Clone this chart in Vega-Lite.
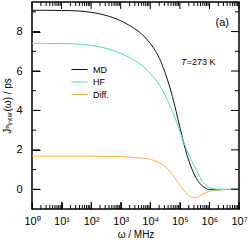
{
  "$schema": "https://vega.github.io/schema/vega-lite/v6.json",
  "autosize": {"type": "none"},
  "padding": {"left": 32, "top": 2, "right": 10, "bottom": 32},
  "width": 207,
  "height": 207,
  "background": "white",
  "config": {
    "font": "Liberation Sans",
    "view": {"stroke": "black", "strokeWidth": 1.5},
    "axis": {
      "labelFont": "Liberation Sans", "labelFontSize": 11, "labelColor": "black",
      "titleFont": "Liberation Sans", "titleFontSize": 10, "titleFontWeight": "normal", "titleColor": "black",
      "labelOverlap": false, "labelBound": false, "labelFlush": false
    }
  },
  "datasets": {
    "curves": [
      {"w": 1, "s": "MD", "v": 9.08}, {"w": 1, "s": "HF", "v": 7.40}, {"w": 1, "s": "Diff.", "v": 1.68},
      {"w": 3.162, "s": "MD", "v": 9.08}, {"w": 3.162, "s": "HF", "v": 7.40}, {"w": 3.162, "s": "Diff.", "v": 1.68},
      {"w": 10, "s": "MD", "v": 9.07}, {"w": 10, "s": "HF", "v": 7.39}, {"w": 10, "s": "Diff.", "v": 1.68},
      {"w": 31.62, "s": "MD", "v": 9.05}, {"w": 31.62, "s": "HF", "v": 7.37}, {"w": 31.62, "s": "Diff.", "v": 1.68},
      {"w": 100, "s": "MD", "v": 8.98}, {"w": 100, "s": "HF", "v": 7.30}, {"w": 100, "s": "Diff.", "v": 1.68},
      {"w": 316.2, "s": "MD", "v": 8.82}, {"w": 316.2, "s": "HF", "v": 7.15}, {"w": 316.2, "s": "Diff.", "v": 1.67},
      {"w": 1000, "s": "MD", "v": 8.55}, {"w": 1000, "s": "HF", "v": 6.89}, {"w": 1000, "s": "Diff.", "v": 1.66},
      {"w": 1778, "s": "MD", "v": 8.35}, {"w": 1778, "s": "HF", "v": 6.72}, {"w": 1778, "s": "Diff.", "v": 1.63},
      {"w": 3162, "s": "MD", "v": 8.12}, {"w": 3162, "s": "HF", "v": 6.52}, {"w": 3162, "s": "Diff.", "v": 1.60},
      {"w": 5623, "s": "MD", "v": 7.82}, {"w": 5623, "s": "HF", "v": 6.24}, {"w": 5623, "s": "Diff.", "v": 1.58},
      {"w": 10000, "s": "MD", "v": 7.40}, {"w": 10000, "s": "HF", "v": 5.88}, {"w": 10000, "s": "Diff.", "v": 1.52},
      {"w": 13335, "s": "MD", "v": 7.13}, {"w": 13335, "s": "HF", "v": 5.67}, {"w": 13335, "s": "Diff.", "v": 1.46},
      {"w": 17783, "s": "MD", "v": 6.82}, {"w": 17783, "s": "HF", "v": 5.43}, {"w": 17783, "s": "Diff.", "v": 1.39},
      {"w": 23714, "s": "MD", "v": 6.42}, {"w": 23714, "s": "HF", "v": 5.12}, {"w": 23714, "s": "Diff.", "v": 1.30},
      {"w": 31623, "s": "MD", "v": 5.92}, {"w": 31623, "s": "HF", "v": 4.75}, {"w": 31623, "s": "Diff.", "v": 1.17},
      {"w": 42170, "s": "MD", "v": 5.35}, {"w": 42170, "s": "HF", "v": 4.37}, {"w": 42170, "s": "Diff.", "v": 0.98},
      {"w": 56234, "s": "MD", "v": 4.70}, {"w": 56234, "s": "HF", "v": 3.95}, {"w": 56234, "s": "Diff.", "v": 0.75},
      {"w": 74989, "s": "MD", "v": 3.95}, {"w": 74989, "s": "HF", "v": 3.47}, {"w": 74989, "s": "Diff.", "v": 0.48},
      {"w": 100000, "s": "MD", "v": 3.15}, {"w": 100000, "s": "HF", "v": 2.93}, {"w": 100000, "s": "Diff.", "v": 0.22},
      {"w": 133352, "s": "MD", "v": 2.38}, {"w": 133352, "s": "HF", "v": 2.42}, {"w": 133352, "s": "Diff.", "v": -0.04},
      {"w": 177828, "s": "MD", "v": 1.70}, {"w": 177828, "s": "HF", "v": 1.95}, {"w": 177828, "s": "Diff.", "v": -0.25},
      {"w": 237137, "s": "MD", "v": 1.15}, {"w": 237137, "s": "HF", "v": 1.53}, {"w": 237137, "s": "Diff.", "v": -0.38},
      {"w": 316228, "s": "MD", "v": 0.72}, {"w": 316228, "s": "HF", "v": 1.15}, {"w": 316228, "s": "Diff.", "v": -0.43},
      {"w": 421697, "s": "MD", "v": 0.40}, {"w": 421697, "s": "HF", "v": 0.78}, {"w": 421697, "s": "Diff.", "v": -0.38},
      {"w": 562341, "s": "MD", "v": 0.18}, {"w": 562341, "s": "HF", "v": 0.45}, {"w": 562341, "s": "Diff.", "v": -0.27},
      {"w": 749894, "s": "MD", "v": 0.05}, {"w": 749894, "s": "HF", "v": 0.22}, {"w": 749894, "s": "Diff.", "v": -0.17},
      {"w": 1000000, "s": "MD", "v": -0.02}, {"w": 1000000, "s": "HF", "v": 0.08}, {"w": 1000000, "s": "Diff.", "v": -0.10},
      {"w": 1778279, "s": "MD", "v": -0.03}, {"w": 1778279, "s": "HF", "v": 0.01}, {"w": 1778279, "s": "Diff.", "v": -0.04},
      {"w": 3162278, "s": "MD", "v": -0.01}, {"w": 3162278, "s": "HF", "v": 0.0}, {"w": 3162278, "s": "Diff.", "v": -0.01},
      {"w": 10000000, "s": "MD", "v": 0}, {"w": 10000000, "s": "HF", "v": 0}, {"w": 10000000, "s": "Diff.", "v": 0}
    ],
    "xt": [
      {"t": 1, "m": 1}, {"t": 2, "m": 0}, {"t": 3, "m": 0}, {"t": 4, "m": 0}, {"t": 5, "m": 0}, {"t": 6, "m": 0}, {"t": 7, "m": 0}, {"t": 8, "m": 0}, {"t": 9, "m": 0},
      {"t": 10, "m": 1}, {"t": 20, "m": 0}, {"t": 30, "m": 0}, {"t": 40, "m": 0}, {"t": 50, "m": 0}, {"t": 60, "m": 0}, {"t": 70, "m": 0}, {"t": 80, "m": 0}, {"t": 90, "m": 0},
      {"t": 100, "m": 1}, {"t": 200, "m": 0}, {"t": 300, "m": 0}, {"t": 400, "m": 0}, {"t": 500, "m": 0}, {"t": 600, "m": 0}, {"t": 700, "m": 0}, {"t": 800, "m": 0}, {"t": 900, "m": 0},
      {"t": 1000, "m": 1}, {"t": 2000, "m": 0}, {"t": 3000, "m": 0}, {"t": 4000, "m": 0}, {"t": 5000, "m": 0}, {"t": 6000, "m": 0}, {"t": 7000, "m": 0}, {"t": 8000, "m": 0}, {"t": 9000, "m": 0},
      {"t": 10000, "m": 1}, {"t": 20000, "m": 0}, {"t": 30000, "m": 0}, {"t": 40000, "m": 0}, {"t": 50000, "m": 0}, {"t": 60000, "m": 0}, {"t": 70000, "m": 0}, {"t": 80000, "m": 0}, {"t": 90000, "m": 0},
      {"t": 100000, "m": 1}, {"t": 200000, "m": 0}, {"t": 300000, "m": 0}, {"t": 400000, "m": 0}, {"t": 500000, "m": 0}, {"t": 600000, "m": 0}, {"t": 700000, "m": 0}, {"t": 800000, "m": 0}, {"t": 900000, "m": 0},
      {"t": 1000000, "m": 1}, {"t": 2000000, "m": 0}, {"t": 3000000, "m": 0}, {"t": 4000000, "m": 0}, {"t": 5000000, "m": 0}, {"t": 6000000, "m": 0}, {"t": 7000000, "m": 0}, {"t": 8000000, "m": 0}, {"t": 9000000, "m": 0},
      {"t": 10000000, "m": 1}
    ],
    "yt": [
      {"u": 0, "m": 1}, {"u": 1, "m": 0}, {"u": 2, "m": 1}, {"u": 3, "m": 0}, {"u": 4, "m": 1},
      {"u": 5, "m": 0}, {"u": 6, "m": 1}, {"u": 7, "m": 0}, {"u": 8, "m": 1}, {"u": 9, "m": 0}
    ]
  },
  "resolve": {"axis": {"x": "independent", "y": "independent"}},
  "layer": [
    {
      "mark": {"type": "rule", "color": "#dddddd", "strokeWidth": 2},
      "encoding": {"y": {"datum": 0, "type": "quantitative", "axis": null}}
    },
    {
      "data": {"name": "curves"},
      "mark": {"type": "line", "strokeWidth": 1, "interpolate": "monotone"},
      "encoding": {
        "x": {
          "field": "w", "type": "quantitative",
          "scale": {"type": "log", "domain": [1, 10000000], "nice": false},
          "axis": {
            "orient": "bottom", "title": "ω / MHz", "titlePadding": 3, "grid": false, "domain": false,
            "values": [1, 10, 100, 1000, 10000, 100000, 1000000, 10000000],
            "offset": -7, "tickSize": 7, "tickColor": "black", "tickWidth": 1, "labelPadding": 6,
            "labelExpr": "'10' + ['⁰','¹','²','³','⁴','⁵','⁶','⁷'][round(log(datum.value)/LN10)]"
          }
        },
        "y": {
          "field": "v", "type": "quantitative",
          "scale": {"domain": [-1, 9.5], "nice": false, "zero": false},
          "axis": {
            "orient": "left", "title": "Jⁿᵢₙₜₑᵣ(ω) / ps", "titlePadding": 3, "grid": false, "domain": false,
            "values": [0, 2, 4, 6, 8], "offset": -8, "tickSize": 8, "tickColor": "black", "tickWidth": 1, "labelPadding": 10
          }
        },
        "color": {
          "field": "s", "type": "nominal",
          "scale": {"domain": ["MD", "HF", "Diff."], "range": ["#111111", "#40e0d0", "#ffb13b"]},
          "legend": {
            "orient": "none", "legendX": 39, "legendY": 63, "title": null,
            "symbolType": "stroke", "symbolSize": 256, "symbolStrokeWidth": 1,
            "labelFontSize": 9, "labelFont": "Liberation Sans", "labelOffset": 5,
            "clipHeight": 9, "rowPadding": 2.5, "padding": 0
          }
        }
      }
    },
    {
      "data": {"name": "xt"}, "transform": [{"filter": "datum.m == 1"}],
      "mark": {"type": "rule", "color": "black", "strokeWidth": 1},
      "encoding": {
        "x": {"field": "t", "type": "quantitative", "axis": null},
        "y": {"datum": -1, "type": "quantitative", "axis": null},
        "y2": {"datum": -0.645}
      }
    },
    {
      "data": {"name": "xt"}, "transform": [{"filter": "datum.m == 0"}],
      "mark": {"type": "rule", "color": "black", "strokeWidth": 1},
      "encoding": {
        "x": {"field": "t", "type": "quantitative", "axis": null},
        "y": {"datum": -1, "type": "quantitative", "axis": null},
        "y2": {"datum": -0.8}
      }
    },
    {
      "data": {"name": "xt"}, "transform": [{"filter": "datum.m == 1"}],
      "mark": {"type": "rule", "color": "black", "strokeWidth": 1},
      "encoding": {
        "x": {"field": "t", "type": "quantitative", "axis": null},
        "y": {"datum": 9.5, "type": "quantitative", "axis": null},
        "y2": {"datum": 9.145}
      }
    },
    {
      "data": {"name": "xt"}, "transform": [{"filter": "datum.m == 0"}],
      "mark": {"type": "rule", "color": "black", "strokeWidth": 1},
      "encoding": {
        "x": {"field": "t", "type": "quantitative", "axis": null},
        "y": {"datum": 9.5, "type": "quantitative", "axis": null},
        "y2": {"datum": 9.3}
      }
    },
    {
      "data": {"name": "yt"}, "transform": [{"filter": "datum.m == 1"}],
      "mark": {"type": "rule", "color": "black", "strokeWidth": 1},
      "encoding": {
        "y": {"field": "u", "type": "quantitative", "axis": null},
        "x": {"datum": 1, "type": "quantitative", "axis": null},
        "x2": {"datum": 1.865}
      }
    },
    {
      "data": {"name": "yt"}, "transform": [{"filter": "datum.m == 0"}],
      "mark": {"type": "rule", "color": "black", "strokeWidth": 1},
      "encoding": {
        "y": {"field": "u", "type": "quantitative", "axis": null},
        "x": {"datum": 1, "type": "quantitative", "axis": null},
        "x2": {"datum": 1.366}
      }
    },
    {
      "data": {"name": "yt"}, "transform": [{"filter": "datum.m == 1"}],
      "mark": {"type": "rule", "color": "black", "strokeWidth": 1},
      "encoding": {
        "y": {"field": "u", "type": "quantitative", "axis": null},
        "x": {"datum": 10000000, "type": "quantitative", "axis": null},
        "x2": {"datum": 5363000}
      }
    },
    {
      "data": {"name": "yt"}, "transform": [{"filter": "datum.m == 0"}],
      "mark": {"type": "rule", "color": "black", "strokeWidth": 1},
      "encoding": {
        "y": {"field": "u", "type": "quantitative", "axis": null},
        "x": {"datum": 10000000, "type": "quantitative", "axis": null},
        "x2": {"datum": 7320000}
      }
    },
    {
      "data": {"values": [{"w": 4590000, "v": 8.43, "t": "(a)"}]},
      "mark": {"type": "text", "align": "right", "baseline": "middle", "fontSize": 11, "color": "black"},
      "encoding": {
        "x": {"field": "w", "type": "quantitative", "axis": null},
        "y": {"field": "v", "type": "quantitative", "axis": null},
        "text": {"field": "t"}
      }
    },
    {
      "data": {"values": [{"w": 109000, "v": 6.46, "t": "T"}]},
      "mark": {"type": "text", "align": "left", "baseline": "middle", "fontSize": 9, "fontStyle": "italic", "color": "black"},
      "encoding": {
        "x": {"field": "w", "type": "quantitative", "axis": null},
        "y": {"field": "v", "type": "quantitative", "axis": null},
        "text": {"field": "t"}
      }
    },
    {
      "data": {"values": [{"w": 172000, "v": 6.46, "t": "=273 K"}]},
      "mark": {"type": "text", "align": "left", "baseline": "middle", "fontSize": 9, "color": "black"},
      "encoding": {
        "x": {"field": "w", "type": "quantitative", "axis": null},
        "y": {"field": "v", "type": "quantitative", "axis": null},
        "text": {"field": "t"}
      }
    }
  ]
}
